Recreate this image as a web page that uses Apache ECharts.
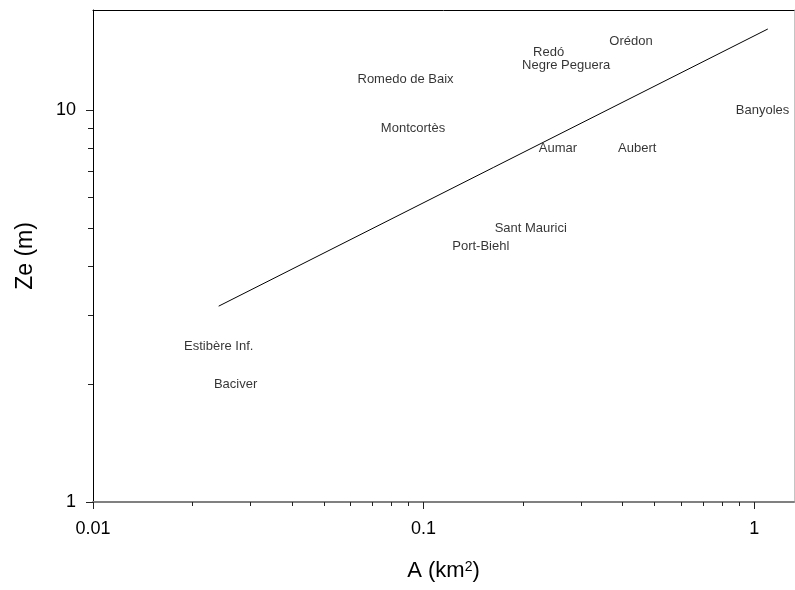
<!DOCTYPE html>
<html>
<head>
<meta charset="utf-8">
<script src="https://cdn.jsdelivr.net/npm/echarts@6/dist/echarts.min.js"></script>
<style>
  html, body { margin: 0; padding: 0; background: #fff; }
  #chart { width: 795px; height: 590px; }
</style>
</head>
<body>
<div id="chart"></div>
<script>
// Lakes: catchment area A (km²) against mixing depth Ze (m)
const lakeNames = ['Orédon', 'Redó', 'Negre Peguera', 'Romedo de Baix', 'Banyoles', 'Montcortès',
                   'Aumar', 'Aubert', 'Sant Maurici', 'Port-Biehl', 'Estibère Inf.', 'Baciver'];
const lakeArea  = [0.424, 0.239, 0.270, 0.0882, 1.06, 0.0929, 0.255, 0.443, 0.211, 0.149, 0.0240, 0.0270];
const lakeZe    = [15, 14, 13, 12, 10, 9, 8, 8, 5, 4.5, 2.5, 2.0];

// Fitted power-law line, end points
const fitArea = [0.024, 1.1];
const fitZe   = [3.16, 16.1];

// Axis ticks
const xTickValues  = [0.01, 0.1, 1];
const xTickLabels  = ['0.01', '0.1', '1'];
const xMinorTicks  = [0.02, 0.03, 0.04, 0.05, 0.06, 0.07, 0.08, 0.09,
                      0.2, 0.3, 0.4, 0.5, 0.6, 0.7, 0.8, 0.9];
const yTickValues  = [1, 10];
const yTickLabels  = ['1', '10'];
const yMinorTicks  = [2, 3, 4, 5, 6, 7, 8, 9];

const FONT = '"Liberation Sans", Arial, Helvetica, sans-serif';
const X_MIN = 0.01, X_MAX = 1.32, Y_MIN = 1, Y_MAX = 18;

function labelFor(values, labels) {
  return function (v) {
    const i = values.findIndex(t => Math.abs(Math.log10(t) - Math.log10(v)) < 1e-6);
    return i >= 0 ? labels[i] : '';
  };
}

const baseX = { type: 'log', logBase: 10, min: X_MIN, max: X_MAX, splitLine: { show: false }, minorTick: { show: false } };
const baseY = { type: 'log', logBase: 10, min: Y_MIN, max: Y_MAX, splitLine: { show: false }, minorTick: { show: false } };

const chart = echarts.init(document.getElementById('chart'), null, { renderer: 'canvas' });
chart.setOption({
  animation: false,
  backgroundColor: '#fff',
  grid: { left: 93, right: 1, top: 10, bottom: 88, containLabel: false, outerBoundsMode: 'none' },
  xAxis: [
    Object.assign({}, baseX, {
      position: 'bottom',
      axisLine: { show: true, lineStyle: { color: '#808080', width: 2 } },
      axisTick: { show: true, customValues: xTickValues, length: 7, lineStyle: { color: '#222', width: 1 } },
      axisLabel: { show: true, customValues: xTickValues, formatter: labelFor(xTickValues, xTickLabels),
                   fontSize: 18, color: '#000', fontFamily: FONT, margin: 18 },
      name: 'A (km{sup|2})',
      nameLocation: 'middle',
      nameGap: 58,
      nameTextStyle: {
        fontSize: 22, color: '#000', fontFamily: FONT,
        rich: { sup: { fontSize: 14, color: '#000', fontFamily: FONT, verticalAlign: 'top' } }
      }
    }),
    Object.assign({}, baseX, {
      position: 'bottom',
      axisLine: { show: false },
      axisTick: { show: true, customValues: xMinorTicks, length: 4, lineStyle: { color: '#222', width: 1 } },
      axisLabel: { show: false }
    }),
    Object.assign({}, baseX, {
      position: 'top',
      axisLine: { show: true, lineStyle: { color: '#000', width: 1 } },
      axisTick: { show: false },
      axisLabel: { show: false }
    })
  ],
  yAxis: [
    Object.assign({}, baseY, {
      position: 'left',
      axisLine: { show: true, lineStyle: { color: '#000', width: 1 } },
      axisTick: { show: true, customValues: yTickValues, length: 7, lineStyle: { color: '#222', width: 1 } },
      axisLabel: { show: true, customValues: yTickValues, formatter: labelFor(yTickValues, yTickLabels),
                   fontSize: 18, color: '#000', fontFamily: FONT, margin: 17 },
      name: 'Ze (m)',
      nameLocation: 'middle',
      nameGap: 56,
      nameTextStyle: { fontSize: 23, color: '#000', fontFamily: FONT }
    }),
    Object.assign({}, baseY, {
      position: 'left',
      axisLine: { show: false },
      axisTick: { show: true, customValues: yMinorTicks, length: 5, lineStyle: { color: '#222', width: 1 } },
      axisLabel: { show: false }
    }),
    Object.assign({}, baseY, {
      position: 'right',
      axisLine: { show: true, lineStyle: { color: '#c4c4c4', width: 1 } },
      axisTick: { show: false },
      axisLabel: { show: false }
    })
  ],
  series: [
    {
      type: 'line',
      xAxisIndex: 0, yAxisIndex: 0,
      data: fitArea.map((a, i) => [a, fitZe[i]]),
      symbol: 'none',
      silent: true,
      lineStyle: { color: '#000', width: 1 }
    },
    {
      type: 'scatter',
      xAxisIndex: 0, yAxisIndex: 0,
      data: lakeArea.map((a, i) => ({ value: [a, lakeZe[i]], name: lakeNames[i] })),
      symbolSize: 1,
      itemStyle: { color: 'rgba(0,0,0,0)' },
      silent: true,
      label: {
        show: true, position: 'inside', formatter: '{b}',
        color: '#000', fontSize: 13, fontFamily: FONT,
        align: 'center', verticalAlign: 'middle'
      }
    }
  ]
});
</script>
</body>
</html>
